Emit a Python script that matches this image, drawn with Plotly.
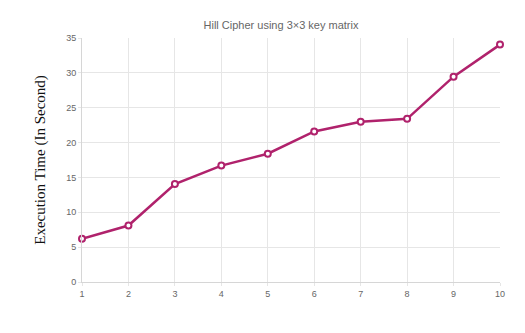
import plotly.graph_objects as go

x_labels = [1, 2, 3, 4, 5, 6, 7, 8, 9, 10]
exec_time = [6.2, 8.1, 14.05, 16.7, 18.4, 21.6, 23.0, 23.4, 29.45, 34.05]

title_text = "Hill Cipher using 3×3 key matrix"
y_title = "Execution Time (In Second)"

line_color = "#B0226C"
grid_color = "#E6E6E6"
tick_font = dict(family="Liberation Sans, Arial", size=9, color="#666666")

fig = go.Figure()
fig.add_trace(go.Scatter(
    x=x_labels, y=exec_time, mode="lines+markers",
    line=dict(color=line_color, width=2.5),
    marker=dict(symbol="circle", size=6, color="white",
                line=dict(color=line_color, width=2)),
    cliponaxis=False, showlegend=False,
))

fig.update_layout(
    width=525, height=333,
    margin=dict(l=82, r=25, t=38, b=51),
    paper_bgcolor="white", plot_bgcolor="white",
    title=dict(text=title_text, x=(281 - 82) / 418, xref="paper", xanchor="center",
               y=1 - 25 / 333, yanchor="middle",
               font=dict(family="Liberation Sans, Arial", size=11, color="#666666")),
)
fig.update_xaxes(
    range=[1, 10], tickmode="array", tickvals=x_labels, ticktext=[str(v) for v in x_labels],
    showgrid=True, gridcolor=grid_color, gridwidth=1,
    showline=True, linecolor="#D6D6D6", linewidth=1,
    ticks="outside", ticklen=3, tickcolor=grid_color,
    tickfont=tick_font, zeroline=False,
)
fig.update_yaxes(
    range=[0, 35], tickmode="linear", tick0=0, dtick=5,
    showgrid=True, gridcolor=grid_color, gridwidth=1,
    showline=True, linecolor="#D6D6D6", linewidth=1,
    ticks="outside", ticklen=3, tickcolor=grid_color,
    tickfont=tick_font, zeroline=False,
    title=dict(text=y_title, standoff=16,
               font=dict(family="Liberation Serif, Times New Roman", size=15, color="#111111")),
)

fig.write_html("out.html")
